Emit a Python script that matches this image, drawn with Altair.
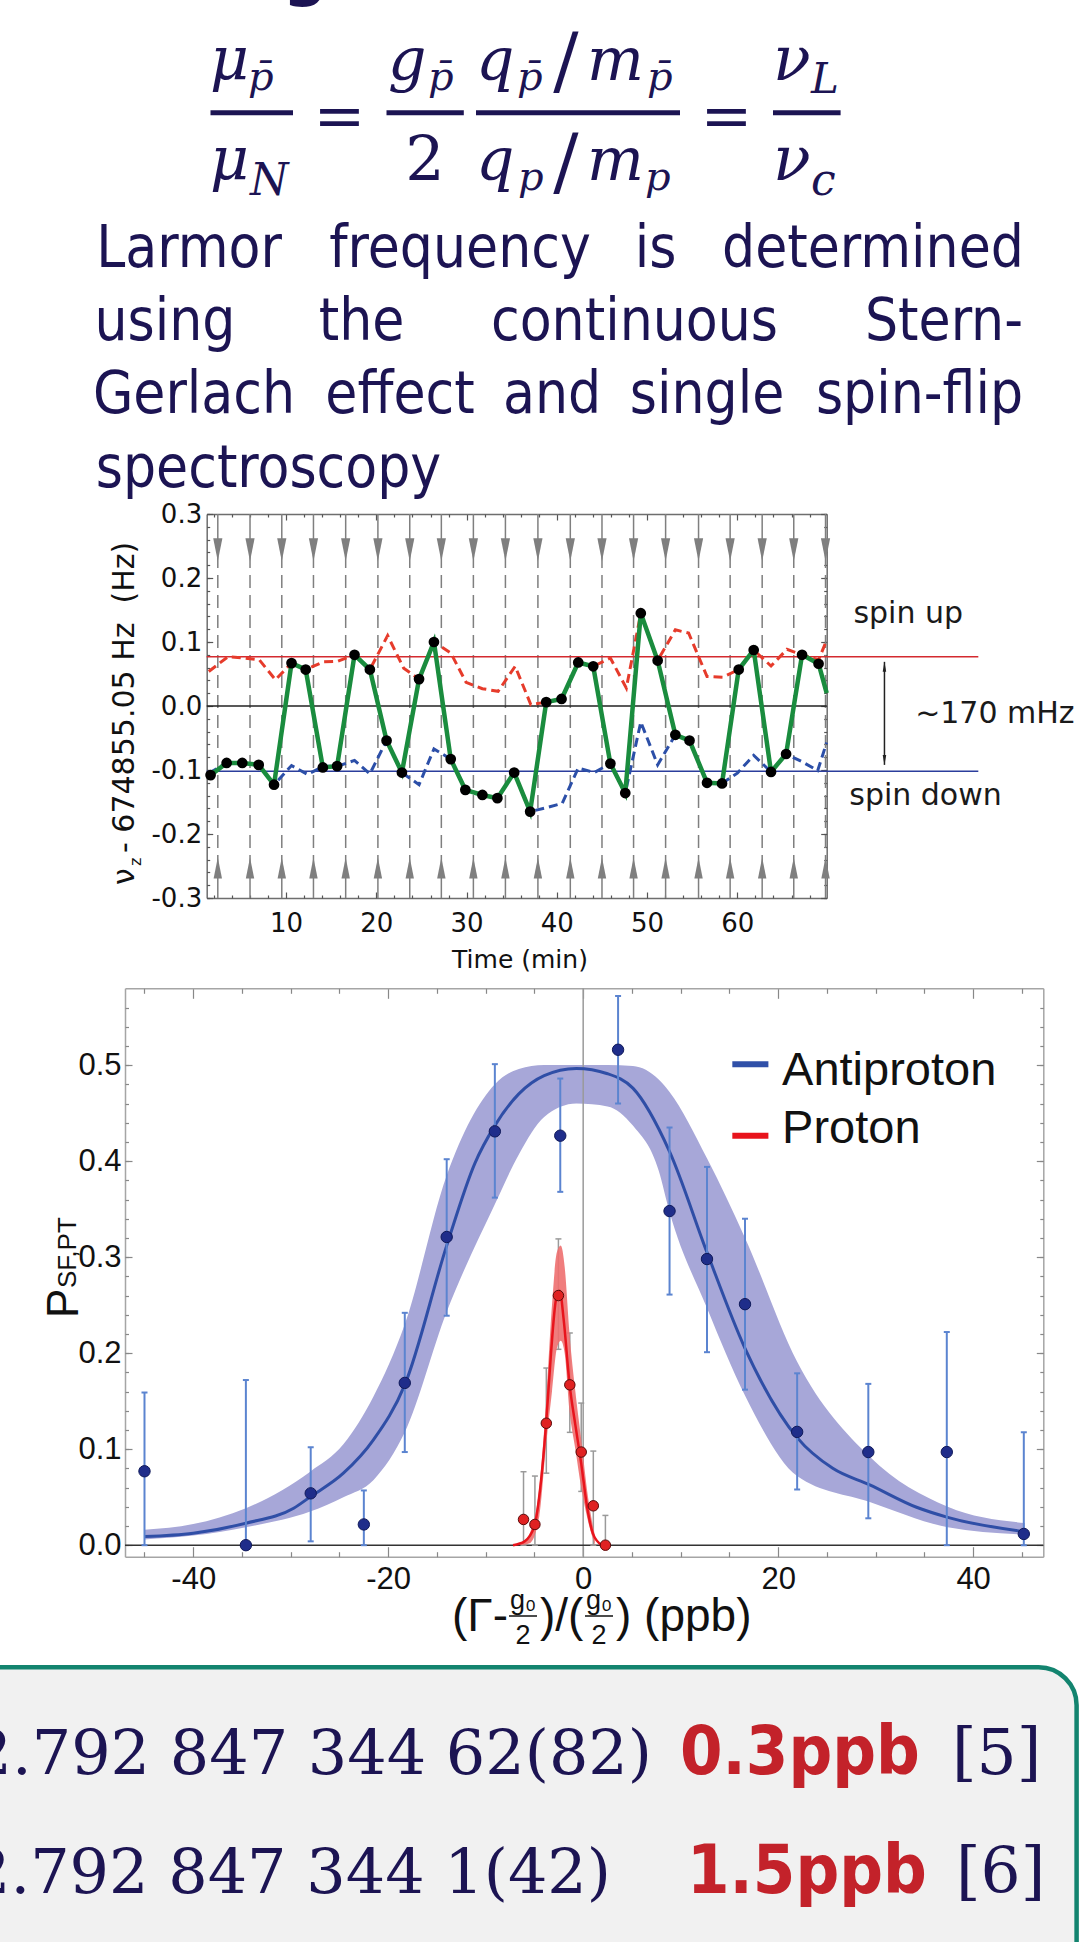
import altair as alt
import pandas as pd

W, H = 1082, 1942
NAVY = "#1c1453"
DEJAVU = "DejaVu Sans"
COND = "DejaVu Sans Condensed, DejaVu Sans"
SERIF = "DejaVu Serif"
ARIAL = "Liberation Sans, Arial, DejaVu Sans"

# ---------------- top panel: continuous Stern-Gerlach time series ----------------
scan_t = [1.63, 3.41, 5.14, 6.96, 8.66, 10.6, 12.17, 14.07, 15.65, 17.58, 19.28, 21.13, 22.83, 24.73,
          26.38, 28.24, 29.86, 31.75, 33.41, 35.27, 37.04, 38.82, 40.52, 42.37, 44.03, 45.93, 47.58,
          49.3, 51.17, 53.13, 54.7, 56.64, 58.3, 60.15, 61.81, 63.73, 65.4, 67.17, 69.0, 69.9]
scan_v = [-0.108, -0.089, -0.089, -0.092, -0.123, 0.067, 0.057, -0.096, -0.094, 0.080, 0.057, -0.054,
          -0.104, 0.042, 0.100, -0.083, -0.131, -0.139, -0.144, -0.104, -0.165, 0.006, 0.011, 0.068,
          0.062, -0.090, -0.136, 0.145, 0.071, -0.045, -0.054, -0.120, -0.121, 0.057, 0.0875, -0.103,
          -0.075, 0.080, 0.066, 0.020]
up_t = [1.43, 3.56, 5.26, 7.04, 8.82, 10.6, 12.17, 14.15, 15.72, 17.58, 19.28, 21.25, 23.03, 24.73,
        26.38, 28.24, 29.94, 31.75, 33.49, 35.38, 37.12, 38.82, 40.52, 42.37, 44.03, 45.93, 47.7,
        49.3, 51.17, 53.13, 54.6, 56.64, 58.4, 60.15, 61.81, 63.73, 65.5, 67.17, 69.0, 69.9]
up_v = [0.054, 0.077, 0.075, 0.072, 0.041, 0.067, 0.057, 0.069, 0.070, 0.080, 0.057, 0.110, 0.059,
        0.042, 0.100, 0.083, 0.037, 0.027, 0.023, 0.062, 0.002, 0.006, 0.011, 0.068, 0.062, 0.075,
        0.028, 0.145, 0.071, 0.119, 0.114, 0.046, 0.045, 0.057, 0.0875, 0.0625, 0.0886, 0.080,
        0.072, 0.103]
dn_t = [1.43, 3.41, 5.14, 6.96, 8.66, 10.6, 12.37, 14.15, 15.72, 17.58, 19.28, 21.13, 22.83, 24.73,
        26.38, 28.24, 29.86, 31.75, 33.41, 35.27, 37.04, 38.82, 40.6, 42.37, 44.15, 45.93, 47.58,
        49.3, 51.17, 53.13, 54.7, 56.64, 58.3, 60.0, 61.81, 63.73, 65.4, 67.17, 68.9, 69.9]
dn_v = [-0.105, -0.089, -0.089, -0.092, -0.123, -0.093, -0.107, -0.094, -0.094, -0.085, -0.106,
        -0.054, -0.104, -0.123, -0.067, -0.083, -0.131, -0.139, -0.144, -0.104, -0.165, -0.159,
        -0.152, -0.097, -0.104, -0.090, -0.136, -0.025, -0.092, -0.045, -0.054, -0.120, -0.121,
        -0.105, -0.077, -0.103, -0.075, -0.087, -0.101, -0.057]
drive_t = [2.43, 6.0, 9.52, 13.03, 16.6, 20.17, 23.7, 27.2, 30.75, 34.3, 37.9, 41.49, 45.0, 48.5,
           52.05, 55.7, 59.2, 62.75, 66.25, 69.77]
level_up = 0.077
level_down = -0.102
top_x_ticks = [10, 20, 30, 40, 50, 60]
top_x_minor = [2, 4, 6, 8, 12, 14, 16, 18, 22, 24, 26, 28, 32, 34, 36, 38, 42, 44, 46, 48, 52, 54,
               56, 58, 62, 64, 66, 68]
top_y_ticks = [-0.3, -0.2, -0.1, 0.0, 0.1, 0.2, 0.3]
top_y_minor = [round(-0.3 + 0.02 * i, 2) for i in range(31)]

# ---------------- bottom panel: resonance ----------------
anti_x = [-45.0, -34.6, -27.95, -22.5, -18.3, -14.0, -9.06, -2.35, 3.58, 8.86, 12.7, 16.6, 21.95,
          29.25, 37.3, 45.2]
anti_p = [0.077, 0.0, 0.054, 0.0216, 0.169, 0.321, 0.431, 0.4265, 0.516, 0.348, 0.298, 0.251,
          0.118, 0.097, 0.097, 0.0117]
anti_lo = [0.0, 0.0, 0.004, 0.0, 0.097, 0.239, 0.362, 0.368, 0.46, 0.261, 0.201, 0.162, 0.058,
           0.028, 0.0, 0.0]
anti_hi = [0.159, 0.172, 0.102, 0.057, 0.242, 0.402, 0.501, 0.486, 0.572, 0.435, 0.394, 0.340,
           0.179, 0.168, 0.222, 0.1175]
fit_x = [-45.0, -40.0, -34.6, -29.7, -27.96, -24.6, -21.5, -18.3, -14.0, -11.1, -9.06, -6.6, -4.0,
         -0.7, 2.5, 5.1, 8.86, 12.7, 16.6, 21.95, 25.6, 29.4, 34.2, 37.4, 45.3]
fit_p = [0.009, 0.0125, 0.0229, 0.0385, 0.0506, 0.075, 0.11, 0.167, 0.312, 0.398, 0.437, 0.47,
         0.489, 0.4965, 0.491, 0.476, 0.41, 0.305, 0.205, 0.112, 0.08, 0.0628, 0.0395, 0.029, 0.014]
band_x = [-45.0, -40.0, -34.6, -28.0, -24.6, -21.5, -18.3, -14.0, -9.06, -6.6, -4.0, -0.7, 2.5, 5.1,
          7.75, 8.86, 12.7, 16.6, 21.95, 29.4, 37.4, 45.3]
band_lo = [0.006, 0.010, 0.0187, 0.035, 0.050, 0.068, 0.1175, 0.243, 0.355, 0.407, 0.446, 0.46,
           0.457, 0.437, 0.39, 0.347, 0.247, 0.156, 0.072, 0.045, 0.0187, 0.011]
band_hi = [0.016, 0.022, 0.0385, 0.0766, 0.105, 0.155, 0.23, 0.385, 0.48, 0.496, 0.5, 0.5, 0.5,
           0.499, 0.485, 0.472, 0.403, 0.32, 0.191, 0.092, 0.040, 0.023]
prot_x = [-6.12, -4.95, -3.78, -2.54, -1.37, -0.2, 1.04, 2.28]
prot_p = [0.0268, 0.0216, 0.127, 0.26, 0.167, 0.097, 0.041, 0.0]
prot_lo = [0.0, 0.0, 0.075, 0.204, 0.1175, 0.056, 0.0, 0.0]
prot_hi = [0.0765, 0.072, 0.1845, 0.319, 0.221, 0.148, 0.098, 0.031]
pfit_x = [-7.2, -6.0, -5.0, -4.4, -3.8, -3.3, -2.8, -2.4, -2.0, -1.4, -0.8, -0.2, 0.4, 1.0, 1.9]
pfit_p = [0.0, 0.004, 0.02, 0.06, 0.127, 0.2, 0.255, 0.265, 0.235, 0.168, 0.125, 0.085, 0.04,
          0.012, 0.0]
pband_x = [-6.5, -5.5, -4.5, -3.8, -3.2, -2.7, -2.3, -1.9, -1.4, -0.8, -0.2, 0.5, 1.2]
pband_hi = [0.0, 0.012, 0.06, 0.15, 0.25, 0.305, 0.312, 0.29, 0.22, 0.16, 0.11, 0.05, 0.01]
pband_lo = [0.0, 0.002, 0.03, 0.105, 0.16, 0.205, 0.213, 0.2, 0.14, 0.1, 0.06, 0.025, 0.0]
bot_x_ticks = [-40, -20, 0, 20, 40]
bot_x_minor = [-45, -35, -30, -25, -15, -10, -5, 5, 10, 15, 25, 30, 35, 45]
bot_y_ticks = [0.0, 0.1, 0.2, 0.3, 0.4, 0.5]
bot_y_minor = [round(0.02 * i, 2) for i in range(29)]
legend_names = ["Antiproton", "Proton"]

results_vals = ["2.792 847 344 62(82)", "2.792 847 344 1(42)"]
results_prec = ["0.3ppb", "1.5ppb"]
results_refs = ["[5]", "[6]"]

# ---------------- scales ----------------
XT = alt.Scale(domain=[1.2, 69.9], range=[206.7, 826.7], nice=False, zero=False)
YT = alt.Scale(domain=[-0.3, 0.3], range=[898, 514], nice=False, zero=False)
XB = alt.Scale(domain=[-47.0, 47.2], range=[125, 1043.3], nice=False, zero=False)
YB = alt.Scale(domain=[-0.012, 0.58], range=[1556.7, 988.3], nice=False, zero=False)

layers = []


def text_layer(s, x, y, size, font=DEJAVU, color=NAVY, align="left", baseline="alphabetic",
               weight="normal", style="normal", angle=None):
    mk = dict(font=font, fontSize=size, color=color, align=align, baseline=baseline,
              fontWeight=weight, fontStyle=style)
    if angle is not None:
        mk["angle"] = angle
    return alt.Chart(pd.DataFrame({"s": [s]})).mark_text(**mk).encode(
        text="s:N", x=alt.value(x), y=alt.value(y))


def bar_layer(x1, x2, y, color=NAVY, width=5):
    return alt.Chart(pd.DataFrame({"k": [0]})).mark_rule(color=color, strokeWidth=width).encode(
        x=alt.value(x1), x2=alt.value(x2), y=alt.value(y), y2=alt.value(y))


def axis_layer(xs, ys, xmid, ymid, xaxis=None, yaxis=None):
    df = pd.DataFrame({"a": [xmid], "b": [ymid]})
    return alt.Chart(df).mark_point(opacity=0, size=1).encode(
        x=alt.X("a:Q", scale=xs, axis=xaxis, title=None),
        y=alt.Y("b:Q", scale=ys, axis=yaxis, title=None))


def tick_axis(orient, offset, values, size, color, domain=False, dcolor="#777"):
    kw = dict(orient=orient, offset=offset, values=values, tickSize=size, tickColor=color,
              tickWidth=1.2, labels=False, grid=False, domain=domain)
    if domain:
        kw.update(domainColor=dcolor, domainWidth=1.5)
    return alt.Axis(**kw)


# ---------------- slide text ----------------
layers.append(text_layer("g", 283, -6, 62, weight="bold"))
SI = "italic"
formula = [
    ("μ", 210, 80, 60, SI, "left"), ("p̄", 248, 90, 40, SI, "left"),
    ("μ", 210, 180, 60, SI, "left"), ("N", 250, 195, 44, SI, "left"),
    ("=", 339.5, 137, 62, "normal", "center"),
    ("g", 388, 80, 60, SI, "left"), ("p̄", 428, 90, 40, SI, "left"),
    ("2", 425, 180, 62, "normal", "center"),
    ("q", 476, 80, 60, SI, "left"), ("p̄", 517, 90, 40, SI, "left"),
    ("/", 566, 86, 75, "normal", "center"),
    ("m", 587, 80, 60, SI, "left"), ("p̄", 647, 90, 40, SI, "left"),
    ("q", 476, 180, 60, SI, "left"), ("p", 518, 190, 40, SI, "left"),
    ("/", 566, 187, 75, "normal", "center"),
    ("m", 587, 180, 60, SI, "left"), ("p", 645, 190, 40, SI, "left"),
    ("=", 726.5, 137, 62, "normal", "center"),
    ("ν", 773, 80, 62, SI, "left"), ("L", 811, 93, 42, SI, "left"),
    ("ν", 773, 180, 62, SI, "left"), ("c", 811, 195, 44, SI, "left"),
]
for s, x, y, size, st, al in formula:
    layers.append(text_layer(s, x, y, size, font=SERIF, style=st, align=al))
for x1, x2 in [(210.5, 293), (386.5, 463.8), (476, 680), (773, 840.6)]:
    layers.append(bar_layer(x1, x2, 112.7))

paragraph = [
    (266.7, [("Larmor", 189), ("frequency", 460), ("is", 655.5), ("determined", 873)]),
    (340.0, [("using", 165), ("the", 361.5), ("continuous", 634.5), ("Stern-", 944)]),
    (413.3, [("Gerlach", 194), ("effect", 400), ("and", 552), ("single", 707), ("spin-flip", 919.5)]),
    (486.5, [("spectroscopy", 268.5)]),
]
for y, words in paragraph:
    for w, cx in words:
        layers.append(text_layer(w, cx, y, 58, font=COND, align="center"))

# ---------------- top panel ----------------
arrow_down = "M -0.4 -1 L 0.4 -1 L 0 1 Z"
arrow_up = "M -0.4 1 L 0.4 1 L 0 -1 Z"
GRAY = "#7f7f7f"
drive = pd.DataFrame({"t": drive_t})
drive["top"] = 0.3
drive["top_head"] = 0.244
drive["bot"] = -0.3
drive["bot_head"] = -0.253

layers.append(alt.Chart(drive).mark_rule(color=GRAY, strokeWidth=1.5, strokeDash=[13, 7]).encode(
    x=alt.X("t:Q", scale=XT, axis=None), y=alt.Y("bot_head:Q", scale=YT, axis=None), y2="top_head:Q"))
layers.append(alt.Chart(drive).mark_rule(color=GRAY, strokeWidth=1.5).encode(
    x=alt.X("t:Q", scale=XT, axis=None), y=alt.Y("top:Q", scale=YT, axis=None), y2="top_head:Q"))
layers.append(alt.Chart(drive).mark_rule(color=GRAY, strokeWidth=1.5).encode(
    x=alt.X("t:Q", scale=XT, axis=None), y=alt.Y("bot:Q", scale=YT, axis=None), y2="bot_head:Q"))
layers.append(alt.Chart(drive).mark_point(shape=arrow_down, filled=True, size=529, color=GRAY,
                                          opacity=1).encode(
    x=alt.X("t:Q", scale=XT, axis=None), y=alt.Y("top_head:Q", scale=YT, axis=None)))
layers.append(alt.Chart(drive).mark_point(shape=arrow_up, filled=True, size=441, color=GRAY,
                                          opacity=1).encode(
    x=alt.X("t:Q", scale=XT, axis=None), y=alt.Y("bot_head:Q", scale=YT, axis=None)))

levels = [(level_up, 86.7, "#d42a2f"), (level_down, 86.7, "#2b3d9c"), (0.0, 69.9, "#222222")]
for v, tend, col in levels:
    df = pd.DataFrame({"t0": [1.2], "t1": [tend], "v": [v]})
    layers.append(alt.Chart(df).mark_rule(color=col, strokeWidth=1.5).encode(
        x=alt.X("t0:Q", scale=XT, axis=None), x2="t1:Q", y=alt.Y("v:Q", scale=YT, axis=None)))

gap = pd.DataFrame({"t": [76.3], "a": [0.069], "b": [-0.092], "ha": [0.0614], "hb": [-0.0844]})
layers.append(alt.Chart(gap).mark_rule(color="#222", strokeWidth=1.5).encode(
    x=alt.X("t:Q", scale=XT, axis=None), y=alt.Y("a:Q", scale=YT, axis=None), y2="b:Q"))
layers.append(alt.Chart(gap).mark_point(shape="M -0.35 1 L 0.35 1 L 0 -1 Z", filled=True, size=100,
                                        color="#222", opacity=1).encode(
    x=alt.X("t:Q", scale=XT, axis=None), y=alt.Y("ha:Q", scale=YT, axis=None)))
layers.append(alt.Chart(gap).mark_point(shape="M -0.35 -1 L 0.35 -1 L 0 1 Z", filled=True, size=100,
                                        color="#222", opacity=1).encode(
    x=alt.X("t:Q", scale=XT, axis=None), y=alt.Y("hb:Q", scale=YT, axis=None)))

up_df = pd.DataFrame({"t": up_t, "v": up_v})
dn_df = pd.DataFrame({"t": dn_t, "v": dn_v})
scan_df = pd.DataFrame({"t": scan_t, "v": scan_v})
layers.append(alt.Chart(dn_df).mark_line(color="#2c4fa8", strokeWidth=3, strokeDash=[9, 5]).encode(
    x=alt.X("t:Q", scale=XT, axis=None), y=alt.Y("v:Q", scale=YT, axis=None)))
layers.append(alt.Chart(up_df).mark_line(color="#e63b2b", strokeWidth=3, strokeDash=[9, 5]).encode(
    x=alt.X("t:Q", scale=XT, axis=None), y=alt.Y("v:Q", scale=YT, axis=None)))
layers.append(alt.Chart(scan_df).mark_line(color="#1a8c3e", strokeWidth=4.5).encode(
    x=alt.X("t:Q", scale=XT, axis=None), y=alt.Y("v:Q", scale=YT, axis=None)))
layers.append(alt.Chart(scan_df).transform_filter(alt.datum.t < 69.8).mark_circle(
    color="#000000", size=115, opacity=1).encode(
    x=alt.X("t:Q", scale=XT, axis=None), y=alt.Y("v:Q", scale=YT, axis=None)))

ann = pd.DataFrame({"t": [72.86, 79.7, 72.4], "v": [0.129, -0.027, -0.155],
                    "s": ["spin up", "~170 mHz", "spin down"]})
layers.append(alt.Chart(ann).mark_text(font=DEJAVU, fontSize=30, color="#1a1a1a", align="left",
                                       baseline="alphabetic").encode(
    x=alt.X("t:Q", scale=XT, axis=None), y=alt.Y("v:Q", scale=YT, axis=None), text="s:N"))

# top panel axes / frame
neg1 = "(datum.value < 0 ? '-' : '') + format(abs(datum.value), '.1f')"
negd = "(datum.value < 0 ? '-' : '') + format(abs(datum.value), 'd')"
FRAME_T = "#6e6e6e"
layers.append(axis_layer(
    XT, YT, 30, 0,
    xaxis=alt.Axis(orient="bottom", offset=898 - H, values=top_x_ticks, ticks=False, grid=False,
                   labelFont=DEJAVU, labelFontSize=26, labelColor="#111", labelPadding=12,
                   labelFlush=False, labelOverlap=False, domainColor=FRAME_T, domainWidth=1.5),
    yaxis=alt.Axis(orient="left", offset=-206.7, values=top_y_ticks, ticks=False, grid=False,
                   labelFont=DEJAVU, labelFontSize=26, labelColor="#111", labelPadding=5,
                   labelFlush=False, labelOverlap=False, labelExpr=neg1,
                   domainColor=FRAME_T, domainWidth=1.5)))
layers.append(axis_layer(XT, YT, 30, 0,
                         xaxis=tick_axis("top", -898, top_x_ticks, 6, "#555"),
                         yaxis=tick_axis("right", -(W - 206.7), top_y_ticks, 6, "#555")))
layers.append(axis_layer(XT, YT, 30, 0,
                         xaxis=tick_axis("top", -898, top_x_minor, 3, "#555"),
                         yaxis=tick_axis("right", -(W - 206.7), top_y_minor, 3, "#555")))
layers.append(axis_layer(XT, YT, 30, 0,
                         xaxis=tick_axis("bottom", 514 - H, top_x_ticks, 6, "#555", True, FRAME_T),
                         yaxis=tick_axis("left", -826.7, top_y_ticks, 6, "#555", True, FRAME_T)))
layers.append(axis_layer(XT, YT, 30, 0,
                         xaxis=tick_axis("bottom", 514 - H, top_x_minor, 3, "#555"),
                         yaxis=tick_axis("left", -826.7, top_y_minor, 3, "#555")))

layers.append(text_layer("Time (min)", 520, 968, 25, color="#111", align="center"))
layers.append(text_layer("ν", 134, 885, 30, color="#111", angle=270))
layers.append(text_layer("z", 141, 866, 16, color="#111", angle=270))
layers.append(text_layer("- 674855.05 Hz\u00a0\u00a0(Hz)", 134, 853, 30, color="#111", angle=270))

# ---------------- bottom panel ----------------
band_df = pd.DataFrame({"u": band_x, "lo": band_lo, "hi": band_hi})
pband_df = pd.DataFrame({"u": pband_x, "lo": pband_lo, "hi": pband_hi})
fit_df = pd.DataFrame({"u": fit_x, "p": fit_p})
pfit_df = pd.DataFrame({"u": pfit_x, "p": pfit_p})
anti_df = pd.DataFrame({"u": anti_x, "p": anti_p, "lo": anti_lo, "hi": anti_hi})
prot_df = pd.DataFrame({"u": prot_x, "p": prot_p, "lo": prot_lo, "hi": prot_hi})

layers.append(alt.Chart(band_df).mark_area(color="#a7a7d8", opacity=1, interpolate="monotone").encode(
    x=alt.X("u:Q", scale=XB, axis=None), y=alt.Y("lo:Q", scale=YB, axis=None), y2="hi:Q"))

refl = pd.DataFrame({"u0": [-47.0], "u1": [47.2], "v": [0.0], "c": [0.0], "b0": [-0.012], "b1": [0.58]})
layers.append(alt.Chart(refl).mark_rule(color="#9a9a9a", strokeWidth=1.5).encode(
    x=alt.X("c:Q", scale=XB, axis=None), y=alt.Y("b0:Q", scale=YB, axis=None), y2="b1:Q"))
layers.append(alt.Chart(refl).mark_rule(color="#333333", strokeWidth=1.5).encode(
    x=alt.X("u0:Q", scale=XB, axis=None), x2="u1:Q", y=alt.Y("v:Q", scale=YB, axis=None)))

layers.append(alt.Chart(prot_df).mark_rule(color="#9a9a9a", strokeWidth=1.5).encode(
    x=alt.X("u:Q", scale=XB, axis=None), y=alt.Y("lo:Q", scale=YB, axis=None), y2="hi:Q"))
for col in ["lo", "hi"]:
    layers.append(alt.Chart(prot_df).mark_tick(orient="horizontal", size=6, thickness=1.5,
                                               color="#9a9a9a", opacity=1).encode(
        x=alt.X("u:Q", scale=XB, axis=None), y=alt.Y(f"{col}:Q", scale=YB, axis=None)))
layers.append(alt.Chart(pband_df).mark_area(color="#ee6f6f", opacity=0.9, interpolate="monotone").encode(
    x=alt.X("u:Q", scale=XB, axis=None), y=alt.Y("lo:Q", scale=YB, axis=None), y2="hi:Q"))

layers.append(alt.Chart(fit_df).mark_line(color="#2f4ea6", strokeWidth=3, interpolate="monotone").encode(
    x=alt.X("u:Q", scale=XB, axis=None), y=alt.Y("p:Q", scale=YB, axis=None)))
layers.append(alt.Chart(anti_df).mark_rule(color="#5b84d0", strokeWidth=2).encode(
    x=alt.X("u:Q", scale=XB, axis=None), y=alt.Y("lo:Q", scale=YB, axis=None), y2="hi:Q"))
for col in ["lo", "hi"]:
    layers.append(alt.Chart(anti_df).mark_tick(orient="horizontal", size=6, thickness=2,
                                               color="#5b84d0", opacity=1).encode(
        x=alt.X("u:Q", scale=XB, axis=None), y=alt.Y(f"{col}:Q", scale=YB, axis=None)))
layers.append(alt.Chart(anti_df).mark_point(filled=True, size=130, color="#1f2d8a", opacity=1,
                                            stroke="#101a5a", strokeWidth=1).encode(
    x=alt.X("u:Q", scale=XB, axis=None), y=alt.Y("p:Q", scale=YB, axis=None)))

layers.append(alt.Chart(pfit_df).mark_line(color="#e8141c", strokeWidth=2.5, interpolate="monotone").encode(
    x=alt.X("u:Q", scale=XB, axis=None), y=alt.Y("p:Q", scale=YB, axis=None)))
layers.append(alt.Chart(prot_df).mark_point(filled=True, size=110, color="#e02222", opacity=1,
                                            stroke="#5a0a0a", strokeWidth=1).encode(
    x=alt.X("u:Q", scale=XB, axis=None), y=alt.Y("p:Q", scale=YB, axis=None)))

leg = pd.DataFrame({"u0": [15.3, 15.3], "u1": [19.0, 19.0], "v": [0.501, 0.4265],
                    "tu": [20.4, 20.4], "tv": [0.4795, 0.419], "s": legend_names,
                    "c": ["#3050a8", "#e8141c"]})
layers.append(alt.Chart(leg).mark_rule(strokeWidth=6).encode(
    x=alt.X("u0:Q", scale=XB, axis=None), x2="u1:Q", y=alt.Y("v:Q", scale=YB, axis=None),
    color=alt.Color("c:N", scale=None)))
layers.append(alt.Chart(leg).mark_text(font=ARIAL, fontSize=47, color="#111", align="left",
                                       baseline="alphabetic").encode(
    x=alt.X("tu:Q", scale=XB, axis=None), y=alt.Y("tv:Q", scale=YB, axis=None), text="s:N"))

FRAME_B = "#a5a5a5"
layers.append(axis_layer(
    XB, YB, 0, 0.2,
    xaxis=alt.Axis(orient="bottom", offset=1556.7 - H, values=bot_x_ticks, ticks=False, grid=False,
                   labelFont=ARIAL, labelFontSize=31, labelColor="#111", labelPadding=8,
                   labelFlush=False, labelOverlap=False, labelExpr=negd,
                   domainColor=FRAME_B, domainWidth=1.5),
    yaxis=alt.Axis(orient="left", offset=-125, values=bot_y_ticks, ticks=False, grid=False,
                   labelFont=ARIAL, labelFontSize=31, labelColor="#111", labelPadding=4,
                   labelFlush=False, labelOverlap=False, labelExpr=neg1,
                   domainColor=FRAME_B, domainWidth=1.5)))
layers.append(axis_layer(XB, YB, 0, 0.2,
                         xaxis=tick_axis("top", -1556.7, bot_x_ticks, 10, "#888"),
                         yaxis=tick_axis("right", -(W - 125), bot_y_ticks, 7, "#888")))
layers.append(axis_layer(XB, YB, 0, 0.2,
                         xaxis=tick_axis("top", -1556.7, bot_x_minor, 5, "#888"),
                         yaxis=tick_axis("right", -(W - 125), bot_y_minor, 3.5, "#888")))
layers.append(axis_layer(XB, YB, 0, 0.2,
                         xaxis=tick_axis("bottom", 988.3 - H, bot_x_ticks, 10, "#888", True, FRAME_B),
                         yaxis=tick_axis("left", -1043.3, bot_y_ticks, 7, "#888", True, FRAME_B)))
layers.append(axis_layer(XB, YB, 0, 0.2,
                         xaxis=tick_axis("bottom", 988.3 - H, bot_x_minor, 5, "#888"),
                         yaxis=tick_axis("left", -1043.3, bot_y_minor, 3.5, "#888")))

# bottom panel axis titles
layers.append(text_layer("P", 78, 1318, 44, font=ARIAL, color="#111", angle=270))
layers.append(text_layer("SF,PT", 76, 1288, 26, font=ARIAL, color="#111", angle=270))
layers.append(text_layer("(Γ-", 452, 1631, 46, font=ARIAL, color="#111"))
layers.append(text_layer("g₀", 523, 1609, 27, font=ARIAL, color="#111", align="center"))
layers.append(text_layer("2", 523, 1644, 27, font=ARIAL, color="#111", align="center"))
layers.append(bar_layer(509, 537, 1616, color="#111", width=1.5))
layers.append(text_layer(")/(", 540, 1631, 46, font=ARIAL, color="#111"))
layers.append(text_layer("g₀", 599, 1609, 27, font=ARIAL, color="#111", align="center"))
layers.append(text_layer("2", 599, 1644, 27, font=ARIAL, color="#111", align="center"))
layers.append(bar_layer(585, 613, 1616, color="#111", width=1.5))
layers.append(text_layer(") (ppb)", 616, 1631, 46, font=ARIAL, color="#111"))

# ---------------- results box ----------------
layers.append(alt.Chart(pd.DataFrame({"k": [0]})).mark_rect(
    fill="#f1f1f1", stroke="#13846f", strokeWidth=4.5, cornerRadius=38).encode(
    x=alt.value(-60), x2=alt.value(1076.6), y=alt.value(1667.3), y2=alt.value(1990)))
for i, (yb, xr, xp, xref) in enumerate([(1774, 652, 680, 952), (1893.3, 611, 687, 956)]):
    layers.append(text_layer(results_vals[i], xr, yb, 62, font=SERIF, align="right"))
    layers.append(text_layer(results_prec[i], xp, yb, 68, font=COND, color="#c3222a", weight="bold"))
    layers.append(text_layer(results_refs[i], xref, yb, 63, font=SERIF))

chart = alt.layer(*layers).resolve_scale(x="independent", y="independent").resolve_axis(
    x="independent", y="independent").properties(
    width=W, height=H, autosize=alt.AutoSizeParams(type="none"), padding=0, background="white"
).configure_view(stroke=None)

chart.save("out.html", embed_options={"renderer": "svg", "actions": False})
